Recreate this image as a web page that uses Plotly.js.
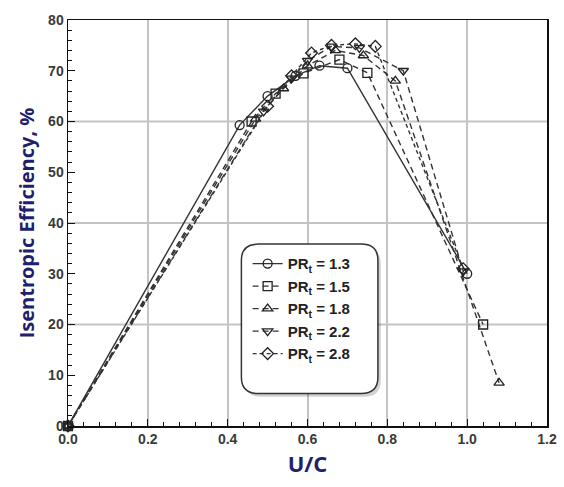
<!DOCTYPE html>
<html><head><meta charset="utf-8">
<script src="https://cdn.plot.ly/plotly-3.0.1.min.js"></script>
<style>html,body{margin:0;padding:0;background:#fff}#chart{width:564px;height:487px}</style>
</head><body><div id="chart"></div>
<script>
const seriesNames = ['PR<sub>t</sub> = 1.3','PR<sub>t</sub> = 1.5','PR<sub>t</sub> = 1.8','PR<sub>t</sub> = 2.2','PR<sub>t</sub> = 2.8'];
const x13 = [0, 0.43, 0.50, 0.57, 0.63, 0.70, 1.00];
const y13 = [0, 59.3, 65.0, 69.0, 71.0, 70.5, 30.0];
const x15 = [0, 0.46, 0.52, 0.59, 0.68, 0.75, 1.04];
const y15 = [0, 60.0, 65.5, 69.5, 72.2, 69.6, 20.0];
const x18 = [0, 0.47, 0.54, 0.60, 0.67, 0.74, 0.82, 1.08];
const y18 = [0, 60.5, 66.5, 71.0, 74.0, 73.0, 68.0, 8.5];
const x22 = [0, 0.49, 0.56, 0.60, 0.66, 0.73, 0.84, 0.99];
const y22 = [0, 62.0, 68.5, 72.0, 74.8, 74.5, 70.0, 30.5];
const x28 = [0, 0.50, 0.56, 0.61, 0.66, 0.72, 0.77, 0.99];
const y28 = [0, 63.0, 69.0, 73.5, 75.0, 75.3, 74.8, 31.0];
const xTickVals = [0, 0.2, 0.4, 0.6, 0.8, 1.0, 1.2];
const yTickVals = [0, 10, 20, 30, 40, 50, 60, 70, 80];
const yGridVals = [20, 40, 60];

const xs = [x13, x15, x18, x22, x28];
const ys = [y13, y15, y18, y22, y28];
const symbols = ['circle-open','square-open','triangle-up-open','triangle-down-open','diamond-open'];
const dashes = ['solid','6px,4px','6px,4px','6px,4px','4px,3px'];

const traces = xs.map((x, i) => ({
  x: x, y: ys[i], name: seriesNames[i], type: 'scatter', mode: 'lines+markers',
  cliponaxis: false,
  line: {color: '#333', width: 1.4, dash: dashes[i]},
  marker: {symbol: symbols[i], size: 9, color: '#222', line: {color: '#222', width: 1.3}}
}));

const shapes = yGridVals.map(v => ({type:'line', xref:'paper', yref:'y', x0:0, x1:1, y0:v, y1:v,
  line:{color:'#c4c4c4', width:2}, layer:'below'}));

// rounded legend box (paper coords)
const bx0 = 0.362, bx1 = 0.647, by0 = 0.08, by1 = 0.448, rx = 0.035, ry = 0.04;
function rr(x0,x1,y0,y1){
  return `M ${x0+rx},${y1} L ${x1-rx},${y1} Q ${x1},${y1} ${x1},${y1-ry} L ${x1},${y0+ry} Q ${x1},${y0} ${x1-rx},${y0} L ${x0+rx},${y0} Q ${x0},${y0} ${x0},${y0+ry} L ${x0},${y1-ry} Q ${x0},${y1} ${x0+rx},${y1} Z`;
}
shapes.push({type:'path', xref:'paper', yref:'paper', path: rr(bx0+0.006,bx1+0.006,by0-0.008,by1-0.008),
  fillcolor:'rgba(0,0,0,0.18)', line:{width:0}, layer:'above'});
shapes.push({type:'path', xref:'paper', yref:'paper', path: rr(bx0,bx1,by0,by1),
  fillcolor:'#fff', line:{color:'#333', width:1.5}, layer:'above'});

const layout = {
  width: 564, height: 487,
  margin: {l: 68, r: 17, t: 20, b: 61},
  paper_bgcolor: '#fff', plot_bgcolor: '#fff',
  showlegend: true,
  legend: {x: 0.375, y: 0.44, xanchor: 'left', yanchor: 'top', bgcolor: 'rgba(0,0,0,0)',
    borderwidth: 0, font: {family: 'Liberation Sans, Arial, sans-serif', size: 15, color: '#222', weight: 'bold'},
    tracegroupgap: 0, itemwidth: 30},
  xaxis: {range: [0, 1.2], tickvals: xTickVals, tickformat: '.1f', showgrid: true, gridcolor: '#c4c4c4', gridwidth: 2,
    zeroline: false, showline: true, linecolor: '#111', linewidth: 1.5, mirror: true,
    ticks: 'inside', ticklen: 7, tickcolor: '#111',
    minor: {dtick: 0.04, ticks: 'inside', ticklen: 4, tickcolor: '#111', showgrid: false},
    tickfont: {family: 'Liberation Sans, Arial, sans-serif', size: 14, color: '#3a3a3a', weight: 'bold'},
    title: {text: 'U/C', standoff: 10, font: {family: 'Open Sans, sans-serif', size: 22, color: '#1f1f6e', weight: 'bold'}}},
  yaxis: {range: [0, 80], tickvals: yTickVals, showgrid: false,
    zeroline: false, showline: true, linecolor: '#111', linewidth: 1.5, mirror: true,
    ticks: 'inside', ticklen: 7, tickcolor: '#111',
    minor: {dtick: 2, ticks: 'inside', ticklen: 4, tickcolor: '#111', showgrid: false},
    tickfont: {family: 'Liberation Sans, Arial, sans-serif', size: 14, color: '#3a3a3a', weight: 'bold'},
    title: {text: 'Isentropic Efficiency, %', standoff: 8, font: {family: 'Open Sans, sans-serif', size: 20, color: '#1f1f6e', weight: 'bold'}}},
  shapes: shapes
};
Plotly.newPlot('chart', traces, layout, {displayModeBar: false, staticPlot: true});
</script></body></html>
